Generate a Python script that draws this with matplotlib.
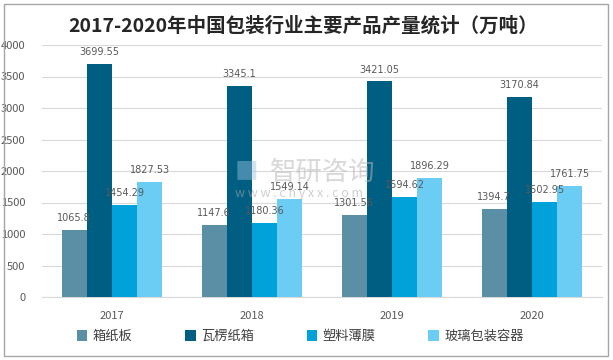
import matplotlib
matplotlib.use("Agg")
import matplotlib.pyplot as plt
from matplotlib.patches import Rectangle
import numpy as np

plt.rcParams['font.family'] = ['Noto Sans CJK SC', 'DejaVu Sans']

years = ['2017', '2018', '2019', '2020']
series_names = ['箱纸板', '瓦楞纸箱', '塑料薄膜', '玻璃包装容器']
boxboard = [1065.8, 1147.6, 1301.56, 1394.7]
corrugated = [3699.55, 3345.1, 3421.05, 3170.84]
plastic_film = [1454.29, 1180.36, 1594.62, 1502.95]
glass = [1827.53, 1549.14, 1896.29, 1761.75]
labels_text = [
    ['1065.8', '1147.6', '1301.56', '1394.7'],
    ['3699.55', '3345.1', '3421.05', '3170.84'],
    ['1454.29', '1180.36', '1594.62', '1502.95'],
    ['1827.53', '1549.14', '1896.29', '1761.75'],
]
colors = ['#5B8FA6', '#005E82', '#00A2D9', '#6BCDF4']

fig = plt.figure(figsize=(6.13, 3.6), dpi=100)
ax = fig.add_axes([0.0685, 0.175, 0.9135, 0.70])

# watermark (behind the bars)
fig.text(0.44, 0.52, '智研咨询', fontsize=19, color='#B8B8B8', alpha=0.55, ha='left', va='center', zorder=0)
fig.text(0.383, 0.555, '■', fontsize=17, color='#9CC3DE', alpha=0.45, ha='left', va='top', zorder=0)
fig.text(0.383, 0.462, 'w w w . c h y x x . c o m', fontsize=9, color='#A8A8A8', alpha=0.55, ha='left', va='center', zorder=0)
ax.set_facecolor('none')

x = np.arange(len(years))
w = 0.18
data = [boxboard, corrugated, plastic_film, glass]
for i, (vals, c, name) in enumerate(zip(data, colors, series_names)):
    pos = x + (i - 1.5) * w
    ax.bar(pos, vals, width=w, color=c, label=name, zorder=3)
    for p, v, t in zip(pos, vals, labels_text[i]):
        ax.text(p, v + 110, t, ha='center', va='bottom', fontsize=7, color='#595959', zorder=5,
                family=['DejaVu Sans'])

ax.set_xlim(-0.5, 3.5)
ax.set_ylim(0, 4000)
ax.set_yticks(np.arange(0, 4001, 500))
ax.yaxis.grid(True, color='#D9D9D9', linewidth=0.8, zorder=0)
ax.set_xticks(x)
ax.set_xticklabels(years)
for s in ['top', 'right', 'left']:
    ax.spines[s].set_visible(False)
ax.spines['bottom'].set_color('#D9D9D9')
ax.tick_params(axis='both', length=0, labelsize=8, colors='#595959')
ax.tick_params(axis='x', pad=10)
ax.tick_params(axis='y', pad=12)

fig.suptitle('2017-2020年中国包装行业主要产品产量统计（万吨）', x=0.495, y=0.955,
             fontsize=14, fontweight='bold', color='#262626')

leg = fig.legend(loc='center', bbox_to_anchor=(0.49, 0.065), ncol=4, frameon=False,
                 fontsize=9.5, handlelength=0.8, handleheight=0.8, columnspacing=4.0,
                 handletextpad=0.4, labelcolor='#404040')

fig.patches.append(Rectangle((0.007, 0.01), 0.985, 0.98, transform=fig.transFigure,
                             fill=False, edgecolor='#A6A6A6', linewidth=1.0))

fig.savefig('out.png', dpi=100)
